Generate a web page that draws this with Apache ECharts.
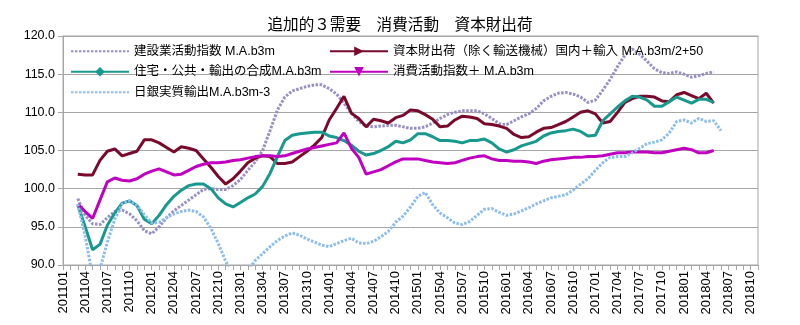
<!DOCTYPE html>
<html>
<head>
<meta charset="utf-8">
<script src="https://cdn.jsdelivr.net/npm/echarts@6/dist/echarts.min.js"></script>
<style>
  html, body { margin: 0; padding: 0; background: #ffffff; }
  #chart { width: 800px; height: 325px; }
</style>
</head>
<body>
<div id="chart"></div>
<script>
// Monthly categories, 2011-01 .. 2018-11
const months = [
  '201101','201102','201103','201104','201105','201106','201107','201108','201109','201110','201111','201112',
  '201201','201202','201203','201204','201205','201206','201207','201208','201209','201210','201211','201212',
  '201301','201302','201303','201304','201305','201306','201307','201308','201309','201310','201311','201312',
  '201401','201402','201403','201404','201405','201406','201407','201408','201409','201410','201411','201412',
  '201501','201502','201503','201504','201505','201506','201507','201508','201509','201510','201511','201512',
  '201601','201602','201603','201604','201605','201606','201607','201608','201609','201610','201611','201612',
  '201701','201702','201703','201704','201705','201706','201707','201708','201709','201710','201711','201712',
  '201801','201802','201803','201804','201805','201806','201807','201808','201809','201810','201811'
];

// 建設業活動指数 M.A.b3m
const construction = [null, null,
  98.7, 96.5, 95.4, 95.3, 96.2, 97.0, 97.2, 96.7, 95.8, 94.5,
  94.1, 95.0, 96.2, 97.1, 97.8, 98.5, 99.2, 99.9, 100.0, 99.9,
  99.9, 100.4, 101.2, 102.4, 103.5, 105.0, 107.6, 110.3, 112.0, 112.8,
  113.1, 113.4, 113.6, 113.6, 113.1, 112.4, 111.2, 109.9, 108.8, 108.2,
  108.1, 108.2, 108.3, 108.3, 108.1, 107.9, 107.9, 108.1, 108.6, 109.2,
  109.7, 110.0, 110.2, 110.2, 110.2, 109.8, 109.2, 108.5, 108.4, 108.9,
  109.4, 109.8, 110.5, 111.5, 112.1, 112.5, 112.6, 112.4, 112.0, 111.3,
  111.6, 112.9, 114.3, 116.0, 117.5, 118.3, 117.6, 116.7, 115.7, 115.2,
  115.1, 115.3, 115.0, 114.6, 114.8, 115.1, 115.3
];

// 資本財出荷（除く輸送機械）国内＋輸入 M.A.b3m/2+50
const capitalGoods = [null, null,
  101.9, 101.8, 101.8, 103.7, 104.9, 105.2, 104.3, 104.6, 104.9, 106.4,
  106.4, 106.0, 105.4, 104.8, 105.5, 105.3, 105.0, 103.9, 102.8, 101.6,
  100.6, 101.3, 102.3, 103.4, 104.0, 104.3, 104.2, 103.3, 103.3, 103.5,
  104.2, 104.9, 105.7, 106.7, 109.0, 110.5, 112.1, 109.9, 109.2, 108.1,
  109.1, 108.9, 108.6, 109.3, 109.6, 110.3, 110.2, 109.7, 109.1, 108.1,
  108.2, 109.0, 109.5, 109.4, 109.2, 108.5, 108.4, 108.2, 107.9, 107.1,
  106.7, 106.8, 107.4, 107.9, 108.0, 108.4, 108.8, 109.4, 110.0, 110.2,
  109.8, 108.6, 108.8, 110.0, 111.3, 111.8, 112.1, 112.1, 112.0, 111.5,
  111.4, 112.3, 112.6, 112.2, 111.8, 112.5, 111.2
];

// 住宅・公共・輸出の合成 M.A.b3m
const composite = [null, null,
  97.9, 95.0, 92.0, 92.7, 95.2, 96.8, 98.1, 98.4, 97.8, 96.0,
  95.4, 96.5, 97.9, 99.0, 99.8, 100.4, 100.6, 100.6, 100.0, 98.8,
  98.0, 97.6, 98.2, 98.8, 99.3, 100.3, 102.0, 104.2, 106.3, 107.0,
  107.2, 107.3, 107.4, 107.4, 106.9, 106.7, 106.3, 105.7, 104.9, 104.4,
  104.6, 105.0, 105.5, 106.2, 106.0, 106.4, 107.2, 107.2, 106.8, 106.3,
  106.3, 106.2, 106.0, 106.3, 106.3, 106.5, 106.0, 105.2, 104.8, 105.1,
  105.6, 105.9, 106.2, 106.9, 107.3, 107.5, 107.6, 107.8, 107.5, 106.9,
  107.0, 108.9, 109.8, 110.7, 111.5, 112.1, 112.0, 111.6, 110.8, 110.8,
  111.4, 112.0, 111.6, 111.2, 111.7, 111.7, 111.3
];

// 消費活動指数＋ M.A.b3m
const consumption = [null, null,
  98.0, 97.0, 96.1, 98.5, 100.9, 101.4, 101.1, 101.0, 101.3, 101.9,
  102.3, 102.6, 102.2, 101.8, 101.9, 102.4, 102.9, 103.2, 103.4, 103.4,
  103.5, 103.7, 103.8, 104.0, 104.2, 104.3, 104.3, 104.2, 104.3, 104.6,
  104.9, 105.2, 105.4, 105.6, 105.8, 106.0, 107.3, 105.3, 104.1, 101.9,
  102.2, 102.5, 103.0, 103.5, 103.9, 103.9, 103.9, 103.7, 103.5, 103.4,
  103.3, 103.4, 103.7, 104.0, 104.2, 104.3, 103.9, 103.7, 103.7, 103.6,
  103.6, 103.5, 103.3, 103.6, 103.8, 103.9, 104.0, 104.1, 104.1, 104.2,
  104.2, 104.3, 104.5, 104.7, 104.7, 104.8, 104.8, 104.8, 104.7, 104.7,
  104.9, 105.1, 105.3, 105.1, 104.7, 104.7, 105.0
];

// 日銀実質輸出 M.A.b3m-3
const exportsReal = [null, null,
  98.0, 93.8, 88.5, 89.5, 93.0, 96.0, 98.0, 98.4, 97.8, 96.6,
  95.5, 95.6, 96.2, 96.7, 97.0, 97.2, 97.0, 96.3, 94.8, 92.8,
  90.5, 88.5, 88.0, 89.3, 90.6, 91.5, 92.4, 93.2, 93.8, 94.2,
  93.9, 93.4, 93.0, 92.6, 92.4, 92.8, 93.2, 93.5, 92.9, 92.8,
  93.1, 93.7, 94.4, 95.6, 96.4, 97.6, 99.0, 99.5, 97.9, 96.8,
  96.2, 95.5, 95.3, 95.7, 96.5, 97.3, 97.4, 96.9, 96.5, 96.7,
  97.1, 97.5, 98.0, 98.4, 98.8, 99.0, 99.2, 99.8, 100.6, 101.3,
  102.4, 103.4, 104.1, 104.2, 104.2, 104.7, 105.3, 105.9, 106.1, 106.4,
  107.3, 108.8, 109.0, 108.6, 109.2, 108.8, 108.9, 107.6
];

const seriesNames = [
  '建設業活動指数 M.A.b3m',
  '資本財出荷（除く輸送機械）国内＋輸入 M.A.b3m/2+50',
  '住宅・公共・輸出の合成M.A.b3m',
  '消費活動指数＋ M.A.b3m',
  '日銀実質輸出M.A.b3m-3'
];

const FONT = '"Liberation Sans", "Noto Sans CJK JP", sans-serif';
const GRID_COLOR = '#a6a6a6';

const chart = echarts.init(document.getElementById('chart'), null, { renderer: 'canvas' });

function lineSeries(name, data, color, opts) {
  return Object.assign({
    name: name,
    type: 'line',
    data: data,
    showSymbol: false,
    symbol: 'none',
    symbolSize: 9,
    connectNulls: false,
    clip: true,
    lineStyle: { color: color, width: 3 },
    itemStyle: { color: color },
    emphasis: { disabled: true }
  }, opts || {});
}

const legendText = { fontSize: 12.5, color: '#000000', fontFamily: FONT };
// dotted series show only their line in the legend
const lineOnly = { opacity: 0 };

chart.setOption({
  animation: false,
  title: {
    text: '追加的３需要　消費活動　資本財出荷',
    left: 'center',
    top: 13,
    textStyle: { fontSize: 15.6, fontWeight: 'normal', color: '#000000', fontFamily: FONT }
  },
  grid: {
    left: 63, top: 36, right: 42, bottom: 60,
    show: true, borderColor: GRID_COLOR, borderWidth: 1
  },
  legend: [
    {
      orient: 'vertical', left: 70, top: 45, padding: 0,
      itemWidth: 58, itemHeight: 12, itemGap: 8,
      data: [
        { name: seriesNames[0], itemStyle: lineOnly },
        { name: seriesNames[2] },
        { name: seriesNames[4], itemStyle: lineOnly }
      ],
      textStyle: legendText
    },
    {
      orient: 'vertical', left: 329, top: 45, padding: 0,
      itemWidth: 58, itemHeight: 12, itemGap: 8,
      data: [seriesNames[1], seriesNames[3]],
      textStyle: legendText
    }
  ],
  xAxis: {
    type: 'category',
    data: months,
    boundaryGap: false,
    axisLine: { lineStyle: { color: GRID_COLOR } },
    axisTick: { interval: 0, length: 5, lineStyle: { color: GRID_COLOR } },
    axisLabel: { interval: 2, rotate: 90, fontSize: 13, color: '#000000', margin: 6, fontFamily: FONT },
    splitLine: { show: false }
  },
  yAxis: {
    type: 'value',
    min: 90, max: 120, interval: 5,
    axisLine: { show: true, lineStyle: { color: GRID_COLOR } },
    axisTick: { show: true, length: 5, lineStyle: { color: GRID_COLOR } },
    axisLabel: { formatter: v => v.toFixed(1), fontSize: 12.5, color: '#000000', margin: 8, fontFamily: FONT },
    splitLine: { show: true, lineStyle: { color: GRID_COLOR, width: 1 } }
  },
  series: [
    lineSeries(seriesNames[0], construction, '#978fc6', {
      lineStyle: { color: '#978fc6', width: 3, type: [2.5, 1.5] }
    }),
    lineSeries(seriesNames[1], capitalGoods, '#7a0a2c', {
      symbol: 'path://M0,0L10,5L0,10Z'
    }),
    lineSeries(seriesNames[2], composite, '#17998d', {
      symbol: 'diamond'
    }),
    lineSeries(seriesNames[3], consumption, '#c000c0', {
      symbol: 'path://M0,0L10,0L5,10Z'
    }),
    lineSeries(seriesNames[4], exportsReal, '#8dbdec', {
      lineStyle: { color: '#8dbdec', width: 3, type: [2.5, 1.5] }
    })
  ]
});
</script>
</body>
</html>
